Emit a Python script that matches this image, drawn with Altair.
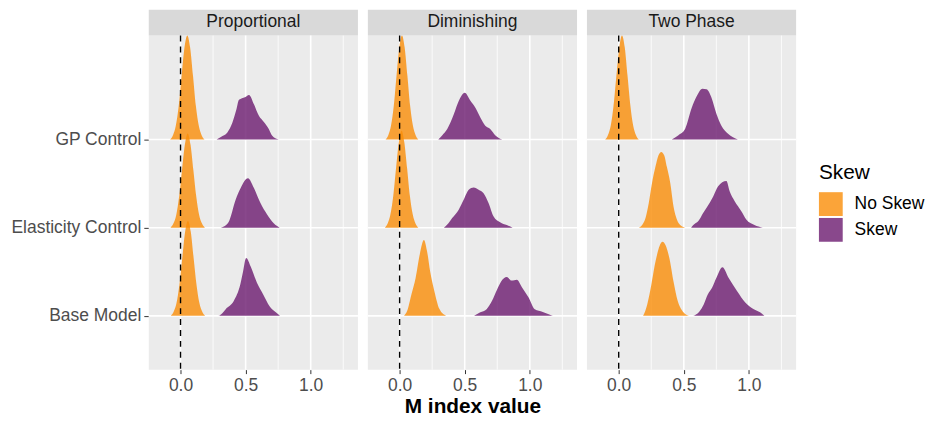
import altair as alt
import pandas as pd

FONT = "Liberation Sans"

# ---------------- data ----------------
panels = ["Proportional", "Diminishing", "Two Phase"]
row_names = ["Base Model", "Elasticity Control", "GP Control"]
row_pos = [1, 2, 3]
skew_levels = ["No Skew", "Skew"]
skew_colors = ["#FA8D08", "#6B1A6F"]

x_tick_values = [0.0, 0.5, 1.0]
x_minor_values = [0.25, 0.75, 1.25]

# Proportional
prop_gp_no_x = [-0.080, -0.058, -0.036, -0.014, 0.008, 0.030, 0.052, 0.074, 0.096, 0.118, 0.140, 0.162, 0.184]
prop_gp_no_h = [0.0, 0.05, 0.16, 0.38, 0.72, 1.04, 1.18, 1.04, 0.72, 0.38, 0.16, 0.05, 0.0]
prop_gp_sk_x = [0.277, 0.31, 0.36, 0.398, 0.429, 0.449, 0.495, 0.526, 0.564, 0.602, 0.64, 0.678, 0.703, 0.754]
prop_gp_sk_h = [0.0, 0.03, 0.08, 0.19, 0.34, 0.45, 0.48, 0.506, 0.40, 0.27, 0.20, 0.12, 0.045, 0.0]
prop_el_no_x = [-0.077, -0.055, -0.033, -0.011, 0.011, 0.033, 0.055, 0.077, 0.099, 0.121, 0.143, 0.165, 0.187]
prop_el_no_h = [0.0, 0.047, 0.144, 0.35, 0.65, 0.94, 1.07, 0.94, 0.65, 0.35, 0.144, 0.047, 0.0]
prop_el_sk_x = [0.31, 0.34, 0.373, 0.424, 0.462, 0.518, 0.564, 0.614, 0.665, 0.716, 0.762]
prop_el_sk_h = [0.0, 0.02, 0.074, 0.32, 0.45, 0.56, 0.45, 0.28, 0.15, 0.05, 0.0]
prop_bm_no_x = [-0.075, -0.053, -0.031, -0.009, 0.013, 0.035, 0.057, 0.079, 0.101, 0.123, 0.145, 0.167, 0.189]
prop_bm_no_h = [0.0, 0.047, 0.145, 0.35, 0.65, 0.95, 1.075, 0.95, 0.65, 0.35, 0.145, 0.047, 0.0]
prop_bm_sk_x = [0.28, 0.30, 0.315, 0.347, 0.41, 0.459, 0.48, 0.504, 0.539, 0.587, 0.636, 0.684, 0.732, 0.764]
prop_bm_sk_h = [0.0, 0.005, 0.02, 0.075, 0.17, 0.355, 0.50, 0.656, 0.56, 0.375, 0.24, 0.11, 0.04, 0.0]

# Diminishing
dim_gp_no_x = [-0.108, -0.087, -0.066, -0.045, -0.024, -0.003, 0.018, 0.039, 0.060, 0.081, 0.102, 0.123, 0.144]
dim_gp_no_h = [0.0, 0.05, 0.16, 0.38, 0.72, 1.04, 1.18, 1.04, 0.72, 0.38, 0.16, 0.05, 0.0]
dim_gp_sk_x = [0.297, 0.328, 0.366, 0.417, 0.455, 0.50, 0.544, 0.582, 0.62, 0.658, 0.696, 0.734, 0.79]
dim_gp_sk_h = [0.0, 0.05, 0.12, 0.29, 0.44, 0.53, 0.44, 0.36, 0.25, 0.157, 0.12, 0.05, 0.0]
dim_el_no_x = [-0.114, -0.092, -0.071, -0.049, -0.028, -0.006, 0.015, 0.036, 0.058, 0.079, 0.101, 0.122, 0.144]
dim_el_no_h = [0.0, 0.048, 0.15, 0.36, 0.67, 0.97, 1.10, 0.97, 0.67, 0.36, 0.15, 0.048, 0.0]
dim_el_sk_x = [0.34, 0.366, 0.404, 0.454, 0.493, 0.531, 0.569, 0.607, 0.645, 0.683, 0.721, 0.772, 0.823, 0.868]
dim_el_sk_h = [0.0, 0.035, 0.11, 0.205, 0.32, 0.43, 0.456, 0.43, 0.39, 0.28, 0.13, 0.063, 0.03, 0.0]
dim_bm_no_x = [0.033, 0.059, 0.09, 0.123, 0.155, 0.187, 0.21, 0.235, 0.267, 0.305, 0.357]
dim_bm_no_h = [0.0, 0.06, 0.24, 0.43, 0.70, 0.86, 0.74, 0.50, 0.28, 0.08, 0.0]
dim_bm_sk_x = [0.572, 0.62, 0.668, 0.71, 0.749, 0.78, 0.823, 0.861, 0.90, 0.942, 0.99, 1.038, 1.10, 1.15, 1.177]
dim_bm_sk_h = [0.0, 0.04, 0.075, 0.17, 0.30, 0.39, 0.44, 0.40, 0.41, 0.32, 0.21, 0.075, 0.045, 0.015, 0.0]

# Two Phase
two_gp_no_x = [-0.104, -0.083, -0.061, -0.040, -0.018, 0.004, 0.025, 0.047, 0.068, 0.090, 0.111, 0.133, 0.154]
two_gp_no_h = [0.0, 0.05, 0.16, 0.38, 0.72, 1.04, 1.18, 1.04, 0.72, 0.38, 0.16, 0.05, 0.0]
two_gp_sk_x = [0.408, 0.459, 0.51, 0.561, 0.599, 0.642, 0.675, 0.713, 0.751, 0.789, 0.84, 0.916]
two_gp_sk_h = [0.0, 0.05, 0.12, 0.36, 0.49, 0.576, 0.57, 0.475, 0.29, 0.157, 0.066, 0.0]
two_el_no_x = [0.155, 0.18, 0.206, 0.231, 0.256, 0.282, 0.305, 0.327, 0.35, 0.37, 0.396, 0.421, 0.447, 0.472, 0.51]
two_el_no_h = [0.0, 0.03, 0.11, 0.28, 0.506, 0.69, 0.82, 0.86, 0.82, 0.69, 0.506, 0.24, 0.093, 0.03, 0.0]
two_el_sk_x = [0.556, 0.573, 0.612, 0.65, 0.675, 0.726, 0.764, 0.827, 0.853, 0.891, 0.942, 0.98, 1.043, 1.107]
two_el_sk_h = [0.0, 0.03, 0.075, 0.17, 0.225, 0.355, 0.47, 0.53, 0.41, 0.30, 0.187, 0.093, 0.03, 0.0]
two_bm_no_x = [0.187, 0.20, 0.219, 0.251, 0.283, 0.337, 0.389, 0.421, 0.453, 0.492, 0.54]
two_bm_no_h = [0.0, 0.04, 0.13, 0.356, 0.62, 0.84, 0.656, 0.39, 0.17, 0.05, 0.0]
two_bm_sk_x = [0.573, 0.62, 0.653, 0.685, 0.717, 0.75, 0.797, 0.845, 0.91, 0.974, 1.038, 1.086, 1.119]
two_bm_sk_h = [0.0, 0.05, 0.13, 0.244, 0.32, 0.43, 0.55, 0.43, 0.28, 0.15, 0.075, 0.04, 0.0]

# (panel, row, skew, x, height) -- top rows first so lower ridges are drawn over them
ridges = [
    ("Proportional", "GP Control", "No Skew", prop_gp_no_x, prop_gp_no_h),
    ("Proportional", "GP Control", "Skew", prop_gp_sk_x, prop_gp_sk_h),
    ("Proportional", "Elasticity Control", "No Skew", prop_el_no_x, prop_el_no_h),
    ("Proportional", "Elasticity Control", "Skew", prop_el_sk_x, prop_el_sk_h),
    ("Proportional", "Base Model", "No Skew", prop_bm_no_x, prop_bm_no_h),
    ("Proportional", "Base Model", "Skew", prop_bm_sk_x, prop_bm_sk_h),
    ("Diminishing", "GP Control", "No Skew", dim_gp_no_x, dim_gp_no_h),
    ("Diminishing", "GP Control", "Skew", dim_gp_sk_x, dim_gp_sk_h),
    ("Diminishing", "Elasticity Control", "No Skew", dim_el_no_x, dim_el_no_h),
    ("Diminishing", "Elasticity Control", "Skew", dim_el_sk_x, dim_el_sk_h),
    ("Diminishing", "Base Model", "No Skew", dim_bm_no_x, dim_bm_no_h),
    ("Diminishing", "Base Model", "Skew", dim_bm_sk_x, dim_bm_sk_h),
    ("Two Phase", "GP Control", "No Skew", two_gp_no_x, two_gp_no_h),
    ("Two Phase", "GP Control", "Skew", two_gp_sk_x, two_gp_sk_h),
    ("Two Phase", "Elasticity Control", "No Skew", two_el_no_x, two_el_no_h),
    ("Two Phase", "Elasticity Control", "Skew", two_el_sk_x, two_el_sk_h),
    ("Two Phase", "Base Model", "No Skew", two_bm_no_x, two_bm_no_h),
    ("Two Phase", "Base Model", "Skew", two_bm_sk_x, two_bm_sk_h),
]

pos_of = dict(zip(row_names, row_pos))
records = []
for i, (pn, rn, sk, xs_, hs_) in enumerate(ridges):
    p = pos_of[rn]
    for xv, hv in zip(xs_, hs_):
        records.append({"panel": pn, "row": rn, "skew": sk, "ridge": f"r{i:02d}",
                        "x": xv, "top": p + hv, "base": p})
ridge_df = pd.DataFrame(records)

# ---------------- layout ----------------
W, H = 211, 363
STRIP = 26
X_DOM = [-0.244, 1.363]
Y_DOM = [0.39, 4.472]

xs = alt.Scale(domain=X_DOM, nice=False, zero=False)
ys = alt.Scale(domain=Y_DOM, nice=False, zero=False)

legend = alt.Legend(
    title="Skew", orient="none", legendX=676, legendY=154,
    symbolType="square", symbolSize=576, symbolStrokeWidth=0, symbolOpacity=0.8,
    titleFontSize=21, titleFontWeight="normal", titleColor="black", titleFont=FONT,
    labelFontSize=17.6, labelColor="black", labelFont=FONT, labelOffset=12,
    rowPadding=2, titlePadding=9, padding=0,
)


def make_panel(name, first, middle):
    if middle:
        xaxis = alt.Axis(values=x_tick_values, format=".1f", grid=False, domain=False,
                         tickSize=4, tickColor="#333333", tickWidth=1,
                         labelFontSize=17.6, labelColor="#4D4D4D", labelFont=FONT, labelPadding=3,
                         title="M index value", titleFontSize=21, titleFontWeight="bold",
                         titleColor="black", titleFont=FONT, titlePadding=2)
    else:
        xaxis = alt.Axis(values=x_tick_values, format=".1f", grid=False, domain=False,
                         tickSize=4, tickColor="#333333", tickWidth=1,
                         labelFontSize=17.6, labelColor="#4D4D4D", labelFont=FONT, labelPadding=3,
                         title=None)
    if first:
        yaxis = alt.Axis(values=row_pos, grid=False, domain=False, tickSize=5,
                         tickColor="#333333", tickWidth=1, labelFontSize=17.6,
                         labelColor="#4D4D4D", labelFont=FONT, labelPadding=3, title=None,
                         labelExpr="datum.value == 1 ? 'Base Model' : datum.value == 2 ? 'Elasticity Control' : 'GP Control'",
                         minExtent=142, maxExtent=142)
    else:
        yaxis = None

    one = pd.DataFrame({"panel": [name]})
    rows_df = pd.DataFrame({"pos": row_pos})
    major_df = pd.DataFrame({"v": x_tick_values})
    minor_df = pd.DataFrame({"v": x_minor_values})
    zero_df = pd.DataFrame({"v": [0.0]})

    bg = alt.Chart(one).mark_rect(color="#EBEBEB").encode(
        x=alt.value(0), x2=alt.value(W), y=alt.value(STRIP), y2=alt.value(H))
    strip = alt.Chart(one).mark_rect(color="#D9D9D9").encode(
        x=alt.value(0), x2=alt.value(W), y=alt.value(0), y2=alt.value(STRIP))
    strip_txt = alt.Chart(one).mark_text(fontSize=17.6, color="#1A1A1A", font=FONT,
                                         align="center", baseline="middle").encode(
        x=alt.value(W / 2), y=alt.value(STRIP / 2 - 1), text="panel:N")
    minor = alt.Chart(minor_df).mark_rule(color="white", strokeWidth=0.8).encode(
        x=alt.X("v:Q", scale=xs, axis=xaxis), y=alt.value(STRIP), y2=alt.value(H))
    major = alt.Chart(major_df).mark_rule(color="white", strokeWidth=1.6).encode(
        x=alt.X("v:Q", scale=xs, axis=xaxis), y=alt.value(STRIP), y2=alt.value(H))
    hgrid = alt.Chart(rows_df).mark_rule(color="white", strokeWidth=1.6).encode(
        y=alt.Y("pos:Q", scale=ys, axis=yaxis), x=alt.value(0), x2=alt.value(W))
    areas = alt.Chart(ridge_df[ridge_df.panel == name]).mark_area(
        interpolate="monotone", opacity=0.8, clip=True, orient="vertical").encode(
        x=alt.X("x:Q", scale=xs, axis=xaxis),
        y=alt.Y("top:Q", scale=ys, axis=yaxis),
        y2="base:Q",
        color=alt.Color("skew:N", scale=alt.Scale(domain=skew_levels, range=skew_colors),
                        legend=legend),
        detail="ridge:N",
    )
    vline = alt.Chart(zero_df).mark_rule(color="black", strokeDash=[6, 5], strokeWidth=1.4).encode(
        x=alt.X("v:Q", scale=xs, axis=xaxis), y=alt.value(STRIP), y2=alt.value(H))

    return alt.layer(bg, strip, strip_txt, minor, major, hgrid, areas, vline).properties(
        width=W, height=H)


chart = alt.hconcat(
    make_panel("Proportional", True, False),
    make_panel("Diminishing", False, True),
    make_panel("Two Phase", False, False),
    spacing=8,
).properties(padding=0).configure(font=FONT).configure_view(strokeWidth=0)

chart.save("out.html", embed_options={"renderer": "svg", "actions": False})
